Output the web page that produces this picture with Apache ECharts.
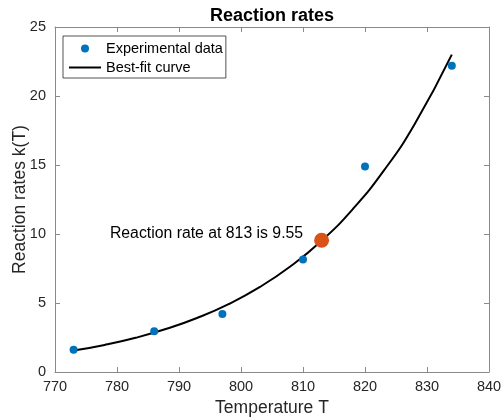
<!DOCTYPE html>
<html><head><meta charset="utf-8">
<script src="https://cdn.jsdelivr.net/npm/echarts@6/dist/echarts.min.js"></script>
<style>html,body{margin:0;padding:0;background:#fff}#c{width:502px;height:417px}</style>
</head><body><div id="c"></div>
<script>
// Experimental data
const expT = [773, 786, 797, 810, 820, 834];
const expK = [1.62, 2.95, 4.2, 8.15, 14.9, 22.2];
// Best-fit curve
const fitT = [773, 778, 783, 788, 793, 798, 803, 808, 813, 818, 823, 828, 834];
const fitK = [1.55, 1.96, 2.48, 3.13, 3.93, 4.92, 6.15, 7.66, 9.51, 11.79, 14.57, 17.96, 23.0];
// Highlighted point
const hiT = [813];
const hiK = [9.55];
const xTicks = [770, 780, 790, 800, 810, 820, 830, 840];
const yTicks = [0, 5, 10, 15, 20, 25];

const FONT = 'Liberation Sans';
const TXT = '#262626';
const AX = '#8a8a8a';
const zip = (a, b) => a.map((v, i) => [v, b[i]]);

const xBase = {min: xTicks[0], max: xTicks[xTicks.length-1], interval: xTicks[1]-xTicks[0],
  splitLine:{show:false}, axisLine:{show:true, onZero:false, lineStyle:{color:AX, width:1}},
  axisTick:{show:true, inside:true, length:5, lineStyle:{color:AX}}};
const yBase = {min: yTicks[0], max: yTicks[yTicks.length-1], interval: yTicks[1]-yTicks[0],
  splitLine:{show:false}, axisLine:{show:true, onZero:false, lineStyle:{color:AX, width:1}},
  axisTick:{show:true, inside:true, length:5, lineStyle:{color:AX}}};

const chart = echarts.init(document.getElementById('c'), null, {renderer:'canvas'});
chart.setOption({
  animation:false,
  textStyle:{fontFamily:FONT},
  title:{text:'Reaction rates', left:267, top:2, textAlign:'center',
    textStyle:{fontFamily:FONT, fontSize:18, fontWeight:'bold', color:'#000'}},
  grid:{left:55, right:13, top:27, bottom:45, containLabel:false, outerBoundsMode:'none'},
  legend:{data:[{name:'Experimental data'}, {name:'Best-fit curve', itemStyle:{opacity:0}}],
    orient:'vertical', left:63, top:36,
    itemWidth:32, itemHeight:8, itemGap:4, padding:[5,3,3,5],
    borderColor:'#262626', borderWidth:0.8, backgroundColor:'#fff',
    textStyle:{fontFamily:FONT, fontSize:14.5, color:'#000'}},
  xAxis:[
    Object.assign({}, xBase, {type:'value', position:'bottom', name:'Temperature T', nameLocation:'middle', nameGap:27,
      nameMoveOverlap:false,
      nameTextStyle:{fontFamily:FONT, fontSize:17.5, color:TXT},
      axisLabel:{fontFamily:FONT, fontSize:14.5, color:TXT, margin:7}}),
    Object.assign({}, xBase, {type:'value', position:'top', axisLabel:{show:false}})
  ],
  yAxis:[
    Object.assign({}, yBase, {type:'value', position:'left', name:'Reaction rates k(T)', nameLocation:'middle', nameGap:26,
      nameMoveOverlap:false,
      nameTextStyle:{fontFamily:FONT, fontSize:17.5, color:TXT},
      axisLabel:{fontFamily:FONT, fontSize:14.5, color:TXT, margin:9}}),
    Object.assign({}, yBase, {type:'value', position:'right', axisLabel:{show:false}})
  ],
  series:[
    {name:'Experimental data', type:'scatter', data:zip(expT, expK), symbol:'circle', symbolSize:8,
      itemStyle:{color:'#0072BD', opacity:1}, z:3},
    {name:'Best-fit curve', type:'line', data:zip(fitT, fitK), smooth:true, symbol:'none', showSymbol:false,
      lineStyle:{color:'#000', width:2}, itemStyle:{color:'#000'}, z:2},
    {name:'highlight', type:'scatter', data:zip(hiT, hiK), symbol:'circle', symbolSize:15,
      itemStyle:{color:'#D95319', opacity:1}, z:4,
      label:{show:true, position:'left', distance:11, offset:[0,-7],
        formatter:() => 'Reaction rate at ' + hiT[0] + ' is ' + hiK[0].toFixed(2),
        fontFamily:FONT, fontSize:15.8, color:'#000'}}
  ]
});
</script></body></html>
